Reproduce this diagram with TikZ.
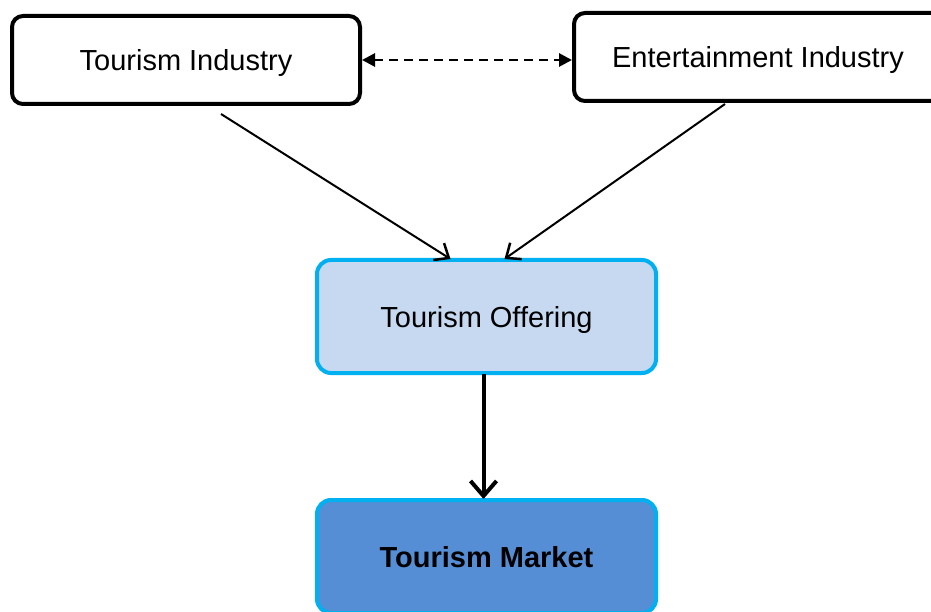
\documentclass[tikz,border=0pt]{standalone}
\usepackage{fontspec}
\setmainfont{Liberation Sans}
\usetikzlibrary{arrows.meta}
\definecolor{cyanb}{HTML}{00B0F0}
\definecolor{lightb}{HTML}{C6D9F1}
\definecolor{midb}{HTML}{558ED5}
\begin{document}
\begin{tikzpicture}[x=1pt,y=-1pt,
  blackbox/.style={draw=black,line width=4pt,rounded corners=11pt,fill=white,
    inner sep=0pt,text height=21pt,text depth=0pt,font=\fontsize{29}{34}\selectfont},
  bluebox/.style={draw=cyanb,line width=4pt,rounded corners=14pt,
    inner sep=0pt,text height=21pt,text depth=0pt,font=\fontsize{29}{34}\selectfont},
  thin/.style={line width=2pt,-{Straight Barb[length=12pt,width=20pt,line width=2.5pt]}},
  thick/.style={line width=4pt,-{Straight Barb[length=15pt,width=26pt,line width=4pt]}}]
\useasboundingbox (0,0) rectangle (931,612);
\clip (0,0) rectangle (931,612);
\node[blackbox,minimum width=348pt,minimum height=88pt] (ti) at (186,60) {Tourism Industry};
\node[blackbox,minimum width=368pt,minimum height=88pt] (ei) at (758,57) {Entertainment Industry};
\node[bluebox,fill=lightb,minimum width=339pt,minimum height=113pt] (to) at (486.5,316.5) {Tourism Offering};
\node[bluebox,fill=midb,minimum width=339pt,minimum height=113pt] (tm) at (486.5,556.5) {\textbf{Tourism Market}};
\draw[line width=2.8pt,dash pattern=on 9pt off 6pt,{Triangle[length=13pt,width=13pt]}-{Triangle[length=13pt,width=13pt]}]
  ([yshift=0pt]ti.east) -- (ti.east -| ei.west);
\draw[thin] ([xshift=35pt,yshift=-8pt]ti.south) -- ([xshift=-36pt,yshift=-1pt]to.north);
\draw[thin] ([xshift=-33pt,yshift=-1pt]ei.south) -- ([xshift=18pt,yshift=-1pt]to.north);
\draw[thick] ([xshift=-3pt,yshift=1pt]to.south) -- ([xshift=-3pt,yshift=-1pt]tm.north);
\end{tikzpicture}
\end{document}
